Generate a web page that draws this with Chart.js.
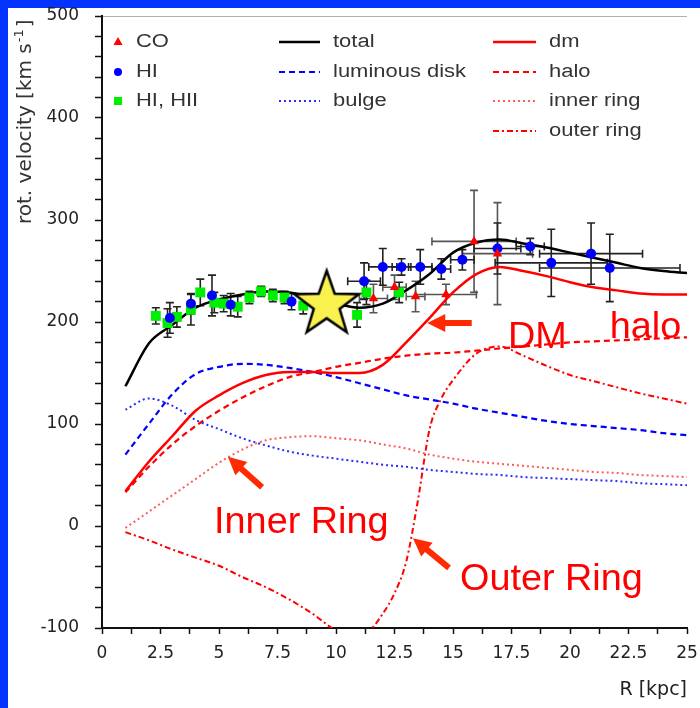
<!DOCTYPE html>
<html>
<head>
<meta charset="utf-8">
<script src="https://cdn.jsdelivr.net/npm/chart.js@4.4.0/dist/chart.umd.min.js"></script>
<style>
  html, body { margin: 0; padding: 0; background: #0433ff; }
</style>
</head>
<body>
<canvas id="myChart" width="700" height="708"></canvas>
<script>
// model curves at whole kpc
var radius = [1, 2, 3, 4, 5, 6, 7, 8, 9, 10, 11, 12, 13, 14, 15, 16, 17, 18, 19, 20, 21, 22, 23, 24, 25];
var totalV = [137, 179, 197, 214, 222, 227, 230, 229, 224, 218, 214, 218, 231, 247, 268, 278, 281, 277, 273, 268, 263, 258, 253, 250, 248];
var dmV    = [34, 63, 88, 113, 128, 140, 148, 151, 151, 150, 150, 158, 180, 204, 229, 247, 254, 250, 245, 239, 234, 231, 228, 227, 227];
var diskV  = [70, 100, 129, 149, 156, 159, 158, 155, 151, 146, 140, 134, 128, 124, 120, 115, 111, 107, 103, 100, 98, 96, 94, 91, 89];
var bulgeV = [114, 125, 118, 104, 95, 86, 79, 73, 69, 66, 63, 60, 58, 55, 53, 51, 50, 48, 47, 46, 45, 44, 42, 41, 40];
var haloV  = [33, 58, 80, 98, 113, 126, 137, 146, 151, 156, 160, 164, 167, 169, 170, 172, 174, 176, 178, 180, 181, 182, 183, 184, 185];
var innerV = [-2, 14, 30, 46, 62, 75, 84, 87, 88, 86, 84, 80, 76, 70, 66, 63, 61, 59, 57, 55, 53, 52, 50, 49, 48];

// outer ring needs a finer grid where it dips and climbs
var outerR = [1, 2, 3, 4, 5, 6, 7, 8, 9, 10, 10.5, 11, 11.5, 12, 12.5, 13, 13.5, 14, 14.5, 15, 16, 17, 18, 19, 20, 21, 22, 23, 24, 25];
var outerV = [-6, -14, -23, -31, -39, -50, -60, -72, -86, -103, -109, -108, -101, -86, -66, -35, 25, 95, 125, 143, 169, 176, 167, 157, 148, 142, 136, 130, 125, 120];

// measured points
var coR    = [11.6, 12.5, 13.4, 14.7, 15.9, 16.9];
var coV    = [223, 234, 225, 227, 279, 267];
var coErrV = [14, 12, 15, 10, 50, 50];
var coErrR = [0.6, 0.5, 0.4, 1.3, 1.8, 1.5];

var hiR    = [2.9, 3.8, 4.7, 5.5, 8.1, 11.2, 12.0, 12.8, 13.6, 14.5, 15.4, 16.9, 18.3, 19.2, 20.9, 21.7];
var hiV    = [204, 218, 226, 217, 220, 240, 254, 254, 254, 252, 261, 272, 274, 258, 267, 253];
var hiErrV = [15, 10, 20, 11, 8, 18, 18, 8, 17, 10, 10, 25, 8, 33, 30, 33];
var hiErrR = [0, 0, 0, 0, 0, 0.7, 0.6, 0.4, 0.5, 0.4, 0.5, 1.0, 0.6, 2.4, 2.2, 3.0];

var hiiR    = [2.3, 2.8, 3.2, 3.8, 4.2, 4.8, 5.2, 5.8, 6.3, 6.8, 7.3, 7.8, 8.6, 10.9, 11.3, 12.7];
var hiiV    = [206, 199, 205, 212, 229, 219, 218, 215, 224, 230, 226, 224, 216, 207, 229, 229];
var hiiErrV = [8, 14, 10, 15, 13, 10, 8, 10, 6, 5, 6, 6, 8, 12, 12, 10];

// the sun
var starR = [9.6];
var starV = [217];

function pts(xs, ys) {
  return xs.map(function(x, i) { return { x: x, y: ys[i] }; });
}

function makeStar(R) {
  var c = document.createElement('canvas');
  var s = Math.ceil(2 * R + 8);
  c.width = s; c.height = s;
  var g = c.getContext('2d');
  g.translate(s / 2, s / 2);
  g.beginPath();
  for (var i = 0; i < 10; i++) {
    var r = i % 2 ? R * 0.4 : R;
    var a = -Math.PI / 2 + i * Math.PI / 5;
    g.lineTo(r * Math.cos(a), r * Math.sin(a));
  }
  g.closePath();
  g.fillStyle = '#f9f24e';
  g.fill();
  g.lineWidth = 2.5;
  g.strokeStyle = '#000';
  g.stroke();
  return c;
}

function curve(label, xs, ys, color, width, dash) {
  return {
    label: label, data: pts(xs, ys), showLine: true, pointRadius: 0,
    borderColor: color, borderWidth: width, borderDash: dash,
    cubicInterpolationMode: 'monotone', fill: false
  };
}

var frame = {
  id: 'frame',
  beforeDraw: function(chart) {
    var ctx = chart.ctx;
    ctx.save();
    ctx.fillStyle = '#0433ff';
    ctx.fillRect(0, 0, chart.width, chart.height);
    ctx.fillStyle = '#fff';
    ctx.fillRect(8, 8, chart.width - 8, chart.height - 8);
    ctx.restore();
  }
};

var errorBars = {
  id: 'errorBars',
  beforeDatasetsDraw: function(chart) {
    var ctx = chart.ctx, xs = chart.scales.x, ys = chart.scales.y;
    chart.data.datasets.forEach(function(ds) {
      if (!ds.errV) return;
      ctx.save();
      ctx.strokeStyle = ds.errColor;
      ctx.lineWidth = 1.6;
      ds.data.forEach(function(p, i) {
        var px = xs.getPixelForValue(p.x), py = ys.getPixelForValue(p.y);
        var dv = ds.errV[i];
        ctx.beginPath();
        if (dv) {
          var y1 = ys.getPixelForValue(p.y + dv), y2 = ys.getPixelForValue(p.y - dv);
          ctx.moveTo(px, y1); ctx.lineTo(px, y2);
          ctx.moveTo(px - 4, y1); ctx.lineTo(px + 4, y1);
          ctx.moveTo(px - 4, y2); ctx.lineTo(px + 4, y2);
        }
        var dr = ds.errR ? ds.errR[i] : 0;
        if (dr) {
          var x1 = xs.getPixelForValue(p.x - dr), x2 = xs.getPixelForValue(p.x + dr);
          ctx.moveTo(x1, py); ctx.lineTo(x2, py);
          ctx.moveTo(x1, py - 4); ctx.lineTo(x1, py + 4);
          ctx.moveTo(x2, py - 4); ctx.lineTo(x2, py + 4);
        }
        ctx.stroke();
      });
      ctx.restore();
    });
  }
};

function stretchText(ctx, s, x, y, k) {
  ctx.save();
  ctx.translate(x, y);
  ctx.scale(k, 1);
  ctx.fillText(s, 0, 0);
  ctx.restore();
}

var legendBox = {
  id: 'legendBox',
  afterDraw: function(chart) {
    var ctx = chart.ctx;
    var sets = {};
    chart.data.datasets.forEach(function(d) { sets[d.label] = d; });
    var rows = [42, 72, 101, 131];
    ctx.save();
    ctx.font = '18px "Liberation Sans", Arial, sans-serif';
    ctx.textBaseline = 'middle';

    ['CO', 'HI', 'HI, HII'].forEach(function(name, i) {
      var d = sets[name], y = rows[i], x = 118;
      ctx.fillStyle = d.pointBackgroundColor;
      ctx.beginPath();
      if (d.pointStyle === 'triangle') {
        ctx.moveTo(x, y - 5); ctx.lineTo(x + 4.5, y + 3); ctx.lineTo(x - 4.5, y + 3);
      } else if (d.pointStyle === 'rect') {
        ctx.rect(x - 4, y - 4, 8, 8);
      } else {
        ctx.arc(x, y, 4, 0, Math.PI * 2);
      }
      ctx.fill();
      ctx.fillStyle = '#333';
      stretchText(ctx, name, 136, y, 1.22);
    });

    function lineItem(name, row, x0, x1, tx) {
      var d = sets[name], y = rows[row];
      ctx.save();
      ctx.strokeStyle = d.borderColor;
      ctx.lineWidth = d.borderWidth;
      ctx.setLineDash(d.borderDash || []);
      ctx.beginPath(); ctx.moveTo(x0, y); ctx.lineTo(x1, y); ctx.stroke();
      ctx.restore();
      ctx.fillStyle = '#333';
      stretchText(ctx, name, tx, y, 1.22);
    }
    ['total', 'luminous disk', 'bulge'].forEach(function(n, i) { lineItem(n, i, 279, 320, 333); });
    ['dm', 'halo', 'inner ring', 'outer ring'].forEach(function(n, i) { lineItem(n, i, 493, 536, 549); });
    ctx.restore();
  }
};

var yTitle = {
  id: 'yTitle',
  afterDraw: function(chart) {
    var ctx = chart.ctx;
    ctx.save();
    ctx.beginPath();
    ctx.rect(8, 8, chart.width - 8, chart.height - 8);
    ctx.clip();
    ctx.translate(31, 224);
    ctx.rotate(-Math.PI / 2);
    ctx.fillStyle = '#333';
    ctx.textBaseline = 'alphabetic';
    ctx.font = '20px "DejaVu Sans", sans-serif';
    var main = 'rot. velocity [km s';
    ctx.fillText(main, 0, 0);
    var w = ctx.measureText(main).width;
    ctx.font = '13px "DejaVu Sans", sans-serif';
    ctx.fillText('-1', w + 1, -8);
    var w2 = ctx.measureText('-1').width;
    ctx.font = '20px "DejaVu Sans", sans-serif';
    ctx.fillText(']', w + w2 + 3, 0);
    ctx.restore();
  }
};

var notes = {
  id: 'notes',
  afterDraw: function(chart) {
    var ctx = chart.ctx, xs = chart.scales.x, ys = chart.scales.y;
    function P(x, y) { return [xs.getPixelForValue(x), ys.getPixelForValue(y)]; }
    function arrow(tail, tip) {
      var a = P(tail[0], tail[1]), b = P(tip[0], tip[1]);
      var ang = Math.atan2(b[1] - a[1], b[0] - a[0]);
      var len = Math.hypot(b[0] - a[0], b[1] - a[1]);
      ctx.save();
      ctx.translate(b[0], b[1]);
      ctx.rotate(ang);
      ctx.fillStyle = '#ff2a00';
      ctx.beginPath();
      ctx.moveTo(0, 0);
      ctx.lineTo(-18, -9); ctx.lineTo(-18, -3); ctx.lineTo(-len, -3);
      ctx.lineTo(-len, 3); ctx.lineTo(-18, 3); ctx.lineTo(-18, 9);
      ctx.closePath();
      ctx.fill();
      ctx.restore();
    }
    arrow([15.8, 199], [13.9, 199]);
    arrow([6.84, 38], [5.38, 68]);
    arrow([14.83, -41], [13.29, -12]);

    ctx.save();
    ctx.fillStyle = '#ff0000';
    ctx.font = '36px "Liberation Sans", Arial, sans-serif';
    ctx.textBaseline = 'alphabetic';
    [['DM', 17.35, 175], ['halo', 21.7, 184], ['Inner Ring', 4.79, -7], ['Outer Ring', 15.3, -63]].forEach(function(t) {
      var p = P(t[1], t[2]);
      stretchText(ctx, t[0], p[0], p[1], 1.05);
    });
    ctx.restore();
  }
};

var datasets = [
  { label: 'sun', data: pts(starR, starV), pointStyle: makeStar(34), pointRadius: 34 },
  { label: 'CO', data: pts(coR, coV), pointStyle: 'triangle', pointRadius: 5.5,
    pointBackgroundColor: '#ff0000', pointBorderWidth: 0, errV: coErrV, errR: coErrR, errColor: '#555' },
  { label: 'HI', data: pts(hiR, hiV), pointStyle: 'circle', pointRadius: 5,
    pointBackgroundColor: '#0000ff', pointBorderWidth: 0, errV: hiErrV, errR: hiErrR, errColor: '#222' },
  { label: 'HI, HII', data: pts(hiiR, hiiV), pointStyle: 'rect', pointRadius: 7,
    pointBackgroundColor: '#00ee00', pointBorderWidth: 0, errV: hiiErrV, errColor: '#222' },
  curve('total', radius, totalV, '#000000', 2.5, []),
  curve('dm', radius, dmV, '#ff0000', 2.5, []),
  curve('luminous disk', radius, diskV, '#0000ff', 2.2, [6, 4]),
  curve('bulge', radius, bulgeV, '#2a2aff', 2, [2, 3]),
  curve('halo', radius, haloV, '#ff0000', 2.2, [6, 4]),
  curve('inner ring', radius, innerV, '#ff5c5c', 2, [2, 3]),
  curve('outer ring', outerR, outerV, '#ff0000', 2, [6, 3, 2, 3])
];

var tickFont = { family: 'DejaVu Sans', size: 17 };

new Chart(document.getElementById('myChart'), {
  type: 'scatter',
  data: { datasets: datasets },
  options: {
    responsive: false,
    animation: false,
    events: [],
    layout: { autoPadding: false, padding: { left: 8, top: 16, right: 13, bottom: 0 } },
    plugins: { legend: { display: false }, tooltip: { enabled: false } },
    scales: {
      x: {
        type: 'linear', min: 0, max: 25,
        afterFit: function(s) { s.height = 80; s.paddingLeft = 0; s.paddingRight = 0; },
        border: { color: '#111', width: 2 },
        grid: { drawOnChartArea: false, color: '#111', tickLength: 6, tickWidth: 1.5 },
        ticks: {
          stepSize: 1.25, autoSkip: false, maxRotation: 0, padding: 9, color: '#222', font: tickFont,
          callback: function(v) {
            var k = v / 2.5;
            return Math.abs(k - Math.round(k)) < 1e-6 ? String(+v.toFixed(1)) : '';
          }
        },
        title: { display: true, text: 'R [kpc]', align: 'end', color: '#222',
                 font: { family: 'DejaVu Sans', size: 19 }, padding: { top: 0, bottom: 7 } }
      },
      y: {
        type: 'linear', min: -100, max: 500,
        afterFit: function(s) { s.width = 94; s.paddingTop = 0; s.paddingBottom = 0; },
        border: { color: '#111', width: 2 },
        grid: {
          drawOnChartArea: true, tickLength: 7, tickWidth: 1.5, tickColor: '#111',
          color: function(c) { return c.tick && c.tick.value === 500 ? '#b0b0b0' : 'rgba(0,0,0,0)'; }
        },
        ticks: {
          stepSize: 20, autoSkip: false, padding: 16, color: '#222', font: tickFont,
          callback: function(v) { return v % 100 === 0 ? String(v) : ''; }
        }
      }
    }
  },
  plugins: [frame, errorBars, legendBox, yTitle, notes]
});
</script>
</body>
</html>
